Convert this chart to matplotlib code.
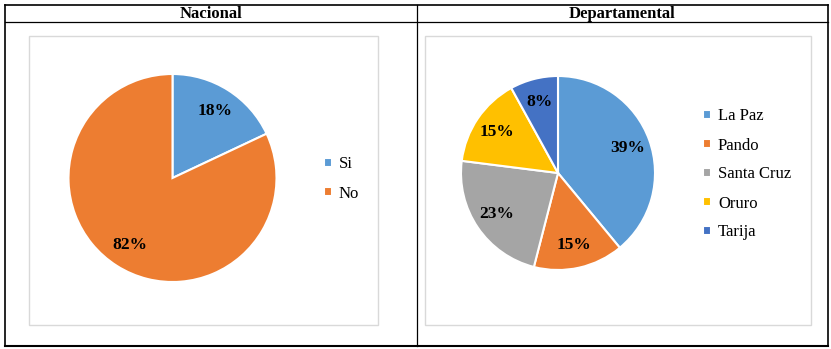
#!/usr/bin/env python3

import matplotlib
matplotlib.use("Agg")
import matplotlib.pyplot as plt
from matplotlib.lines import Line2D
from matplotlib.patches import Rectangle

W, H = 831, 349

# data
nac_labels = ["Si", "No"]
nac_values = [18, 82]
dep_labels = ["La Paz", "Pando", "Santa Cruz", "Oruro", "Tarija"]
dep_values = [39, 15, 23, 15, 8]
headers = ["Nacional", "Departamental"]

nac_colors = ["#5B9BD5", "#ED7D31"]
dep_colors = ["#5B9BD5", "#ED7D31", "#A5A5A5", "#FFC000", "#4472C4"]

plt.rcParams['font.family'] = ['Liberation Serif', 'DejaVu Serif']

fig = plt.figure(figsize=(W / 100, H / 100), dpi=100)
fig.patch.set_facecolor("white")


def px_rect(x0, y0, x1, y1):
    # pixel box (top-left origin) -> figure fraction rect
    return [x0 / W, 1 - y1 / H, (x1 - x0) / W, (y1 - y0) / H]


def hline(y, x0, x1, lw=1.2, color="black"):
    fig.add_artist(Line2D([x0 / W, x1 / W], [1 - y / H, 1 - y / H],
                          color=color, lw=lw, transform=fig.transFigure))


def vline(x, y0, y1, lw=1.2, color="black"):
    fig.add_artist(Line2D([x / W, x / W], [1 - y0 / H, 1 - y1 / H],
                          color=color, lw=lw, transform=fig.transFigure))


# table grid
hline(5, 5, 828)
hline(22, 5, 828, lw=0.9)
hline(346, 5, 828, lw=1.5)
vline(5, 5, 346)
vline(417, 5, 346, lw=0.9)
vline(828, 5, 346)

fig.text(211 / W, 1 - 14 / H, headers[0], ha="center", va="center",
         fontsize=12, fontweight="bold")
fig.text(622 / W, 1 - 14 / H, headers[1], ha="center", va="center",
         fontsize=12, fontweight="bold")

# chart area boxes
for (x0, y0, x1, y1) in [(29, 36, 378, 325), (425, 36, 811, 325)]:
    r = px_rect(x0, y0, x1, y1)
    fig.add_artist(Rectangle((r[0], r[1]), r[2], r[3], fill=False,
                             edgecolor="#D9D9D9", lw=1.0,
                             transform=fig.transFigure))


def draw_pie(cx, cy, rad, values, colors, labels, leg_x, leg_y, spacing):
    ax = fig.add_axes(px_rect(cx - rad, cy - rad, cx + rad, cy + rad))
    wedges, _, autotexts = ax.pie(values, colors=colors, startangle=90,
                                  counterclock=False, autopct="%d%%",
                                  pctdistance=0.76,
                                  wedgeprops=dict(edgecolor="white", linewidth=1.5),
                                  textprops=dict(fontsize=12.5, fontweight="bold"))
    ax.set_xlim(-1, 1)
    ax.set_ylim(-1, 1)
    ax.set_aspect("equal")
    ax.axis("off")
    fig.legend(wedges, labels, loc="center left",
               bbox_to_anchor=(leg_x / W, 1 - leg_y / H),
               bbox_transform=fig.transFigure, frameon=False, fontsize=12,
               handlelength=0.45, handleheight=0.45, handletextpad=0.45,
               labelspacing=spacing, borderpad=0, borderaxespad=0)
    return ax, autotexts


draw_pie(172.5, 178, 104, nac_values, nac_colors, nac_labels, 324, 179, 0.82)
draw_pie(558, 173, 97, dep_values, dep_colors, dep_labels, 703, 174.5, 0.78)

fig.savefig("out.png", dpi=100)
